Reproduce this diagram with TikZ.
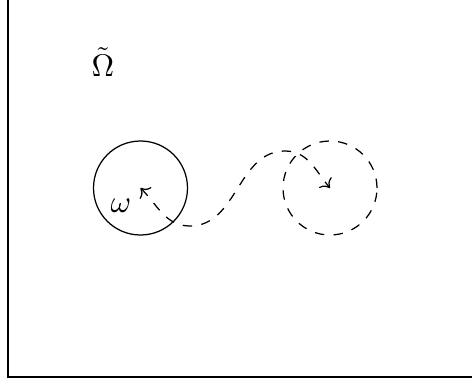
\documentclass[tikz,border=0pt]{standalone}
\usetikzlibrary{positioning,calc,arrows.meta}

\begin{document}
\begin{tikzpicture}[x=0.32pt,y=0.32pt]
  \useasboundingbox (0,0) rectangle (472,381);
  \clip (0,0) rectangle (472,381);
  \draw (8,4) rectangle (480,392);
  \coordinate (omegaC) at (140.5,193);
  \coordinate (movedC) at (330,193);
  \draw (omegaC) circle[radius=47];
  \draw[dashed] (movedC) circle[radius=47];
  \node (bigOmega) at (103,319) {$\tilde\Omega$};
  \node (smallOmega) at (121,175) {$\omega$};
  \coordinate (dip) at (190,155);
  \coordinate (crest) at (285,230);
  \draw[dashed,<->] (omegaC) to[out=-45,in=180] (dip)
    to[out=0,in=180] (crest) to[out=0,in=130] (movedC);
\end{tikzpicture}
\end{document}
